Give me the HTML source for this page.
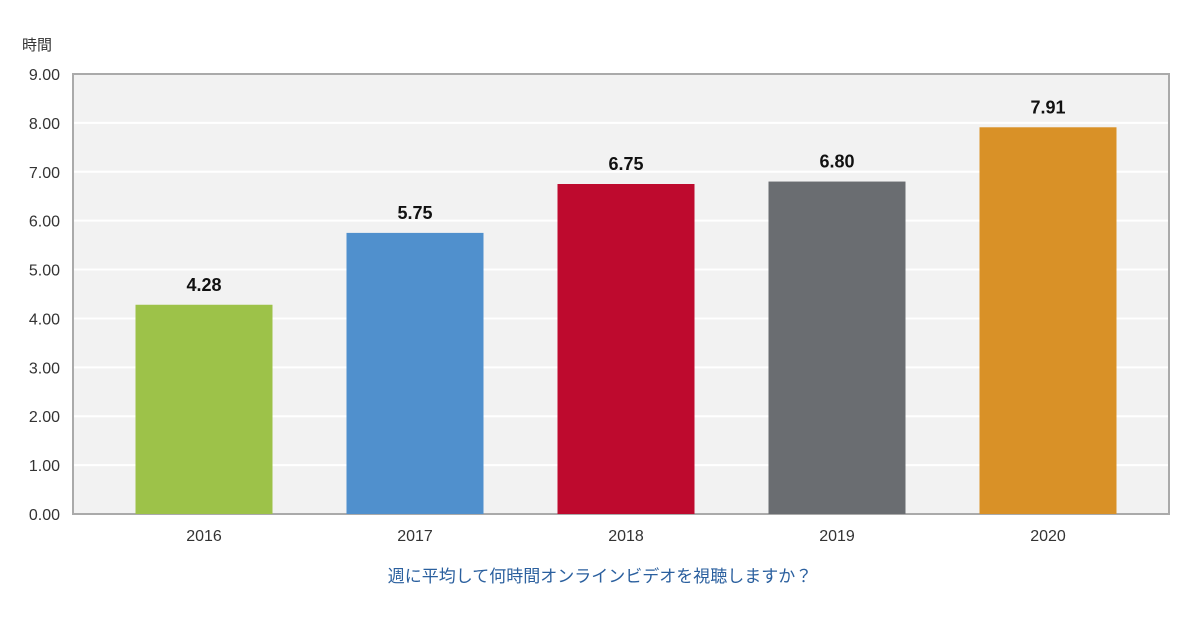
<!DOCTYPE html>
<html><head><meta charset="utf-8"><style>
body{margin:0;background:#fff;width:1200px;height:630px;overflow:hidden}
svg text{font-family:"Liberation Sans","Noto Sans CJK JP",sans-serif}
</style></head><body>
<svg id="chart" width="1200" height="630">
<text x="22" y="50" font-size="15" fill="#333">時間</text>
<rect x="73" y="74" width="1096" height="440" fill="#f2f2f2" stroke="#aaa" stroke-width="2"/>
<g id="grid"></g><g id="bars"></g><g id="labels"></g>
<text x="600" y="582" font-size="17" fill="#2a5f9e" text-anchor="middle">週に平均して何時間オンラインビデオを視聴しますか？</text>
</svg>
<script>
const categories=["2016","2017","2018","2019","2020"];
const values=[4.28,5.75,6.75,6.80,7.91];
const valueLabels=["4.28","5.75","6.75","6.80","7.91"];
const colors=["#9dc249","#5090cd","#be0a2e","#6a6d71","#d99127"];
const yTicks=[0,1,2,3,4,5,6,7,8,9];
const ns="http://www.w3.org/2000/svg";
const y=v=>514-v*(440/9);
const xc=i=>204+i*211;
function mk(t,a,p){const e=document.createElementNS(ns,t);for(const k in a)e.setAttribute(k,a[k]);p.appendChild(e);return e;}
const g=document.getElementById('grid'),b=document.getElementById('bars'),l=document.getElementById('labels');
yTicks.forEach(v=>{
 if(v>0&&v<9){const ln=mk('line',{x1:74,x2:1168,y1:y(v),y2:y(v),stroke:'#fff','stroke-width':2},g);
 
 }
 const t=mk('text',{x:60,y:y(v)+6,'font-size':16,fill:'#333','text-anchor':'end'},g);t.textContent=v.toFixed(2);
 
 
});
categories.forEach((c,i)=>{
 const r=mk('rect',{x:xc(i)-68.5,y:y(values[i]),width:137,height:514-y(values[i]),fill:colors[i]},b);
 
 
 const v=mk('text',{x:xc(i),y:y(values[i])-14,'font-size':18,'font-weight':'bold',fill:'#111','text-anchor':'middle'},l);v.textContent=valueLabels[i];
 
 
 const t=mk('text',{x:xc(i),y:541,'font-size':16,fill:'#333','text-anchor':'middle'},l);t.textContent=c;
 
 
});
</script>
</body></html>
